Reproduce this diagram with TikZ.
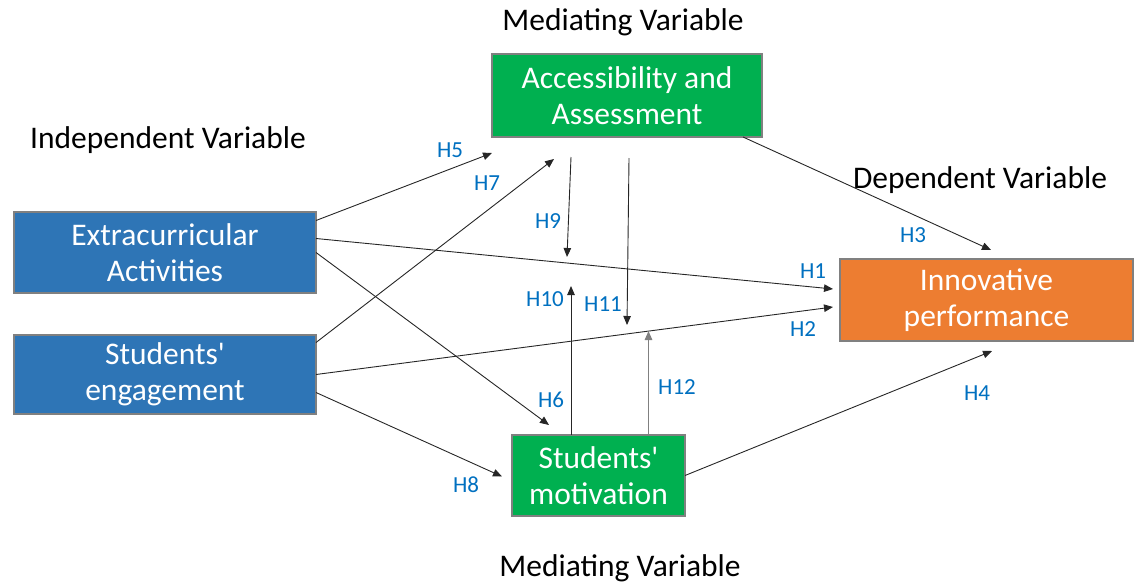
\documentclass[tikz,border=0pt]{standalone}
\usepackage{fontspec}
\setmainfont{Carlito}
\usepackage{tikz}
\usetikzlibrary{positioning,arrows.meta}
\definecolor{boxblue}{HTML}{2E75B6}
\definecolor{boxgreen}{HTML}{00B050}
\definecolor{boxorange}{HTML}{ED7D31}
\definecolor{boxline}{HTML}{808080}
\definecolor{hypblue}{HTML}{0070C0}
\tikzset{
	varbox/.style={draw=boxline, line width=1.6pt, text=white, align=center,
		inner sep=0pt, outer sep=0pt,
		font=\fontsize{31.5}{36}\selectfont},
	vartitle/.style={font=\fontsize{31.5}{36}\selectfont, inner sep=0pt},
	hyp/.style={text=hypblue, font=\fontsize{23}{26}\selectfont, inner sep=0pt},
	link/.style={->, line width=0.9pt, draw=black!85}
}
\begin{document}
\begin{tikzpicture}[x=1pt, y=-1pt, >={Triangle[length=9pt,width=7.5pt]}]
	\useasboundingbox (0,0) rectangle (1134,584);
	% variable boxes
	\node[varbox, fill=boxblue, minimum width=302pt, minimum height=81pt] (extra) at (165,252.5) {Extracurricular\\Activities};
	\node[varbox, fill=boxblue, minimum width=302pt, minimum height=79pt] (engage) at (165,374.5) {Students\textquotesingle\\engagement};
	\node[varbox, fill=boxgreen, minimum width=270pt, minimum height=83pt] (access) at (627,95.5) {Accessibility and\\Assessment};
	\node[varbox, fill=boxgreen, minimum width=173pt, minimum height=81pt] (motiv) at (598.5,475.5) {Students\textquotesingle\\motivation};
	\node[varbox, fill=boxorange, minimum width=293pt, minimum height=82pt] (innov) at (986.5,300) {Innovative\\performance};
	
	% titles
	\node[vartitle] (medtop) at (623,22) {Mediating Variable};
	\node[vartitle] (indep) at (168,140) {Independent Variable};
	\node[vartitle] (dep) at (980,180) {Dependent Variable};
	\node[vartitle] (medbot) at (620,568) {Mediating Variable};
	
	% free ends of the moderating arrows
	\coordinate (h9s) at (571,157);
	\coordinate (h9e) at (567,257);
	\coordinate (h11s) at (629,158);
	\coordinate (h11e) at (627,325);
	\coordinate (h10e) at (571,286);
	\coordinate (h12e) at (648.5,331);
	
	% direct paths
	\draw[link] ([yshift=32pt]extra.east) -- ([yshift=-16pt]access.south west);
	\draw[link] ([yshift=14pt]extra.east) -- ([xshift=-7pt,yshift=11pt]innov.west);
	\draw[link] (extra.east) -- ([xshift=37pt,yshift=10pt]motiv.north west);
	\draw[link] ([yshift=32pt]engage.east) -- ([xshift=62pt,yshift=-22pt]access.south west);
	\draw[link] (engage.east) -- ([xshift=-7pt,yshift=-7pt]innov.west);
	\draw[link] ([yshift=-18pt]engage.east) -- ([xshift=-10pt,yshift=-1pt]motiv.west);
	\draw[link] ([xshift=-19pt]access.south east) -- ([xshift=4.5pt,yshift=9pt]innov.north);
	\draw[link] (motiv.east) -- ([xshift=5.5pt,yshift=-10pt]innov.south);
	
	% moderating paths
	\draw[link] (h9s) -- (h9e);
	\draw[link] (h11s) -- (h11e);
	\draw[link] ([xshift=-27.5pt]motiv.north) -- (h10e);
	\draw[link, draw=boxline, line width=1.3pt] ([xshift=50pt]motiv.north) -- (h12e);
	
	% hypothesis labels
	\node[hyp] (h1) at (813,271) {H1};
	\node[hyp] (h2) at (803,329) {H2};
	\node[hyp] (h3) at (913,235) {H3};
	\node[hyp] (h4) at (977,393) {H4};
	\node[hyp] (h5) at (450,150) {H5};
	\node[hyp] (h6) at (551,400) {H6};
	\node[hyp] (h7) at (487,183) {H7};
	\node[hyp] (h8) at (466,485) {H8};
	\node[hyp] (h9) at (548,221) {H9};
	\node[hyp] (h10) at (545,299) {H10};
	\node[hyp] (h11) at (603,304) {H11};
	\node[hyp] (h12) at (677,387) {H12};
\end{tikzpicture}
\end{document}
